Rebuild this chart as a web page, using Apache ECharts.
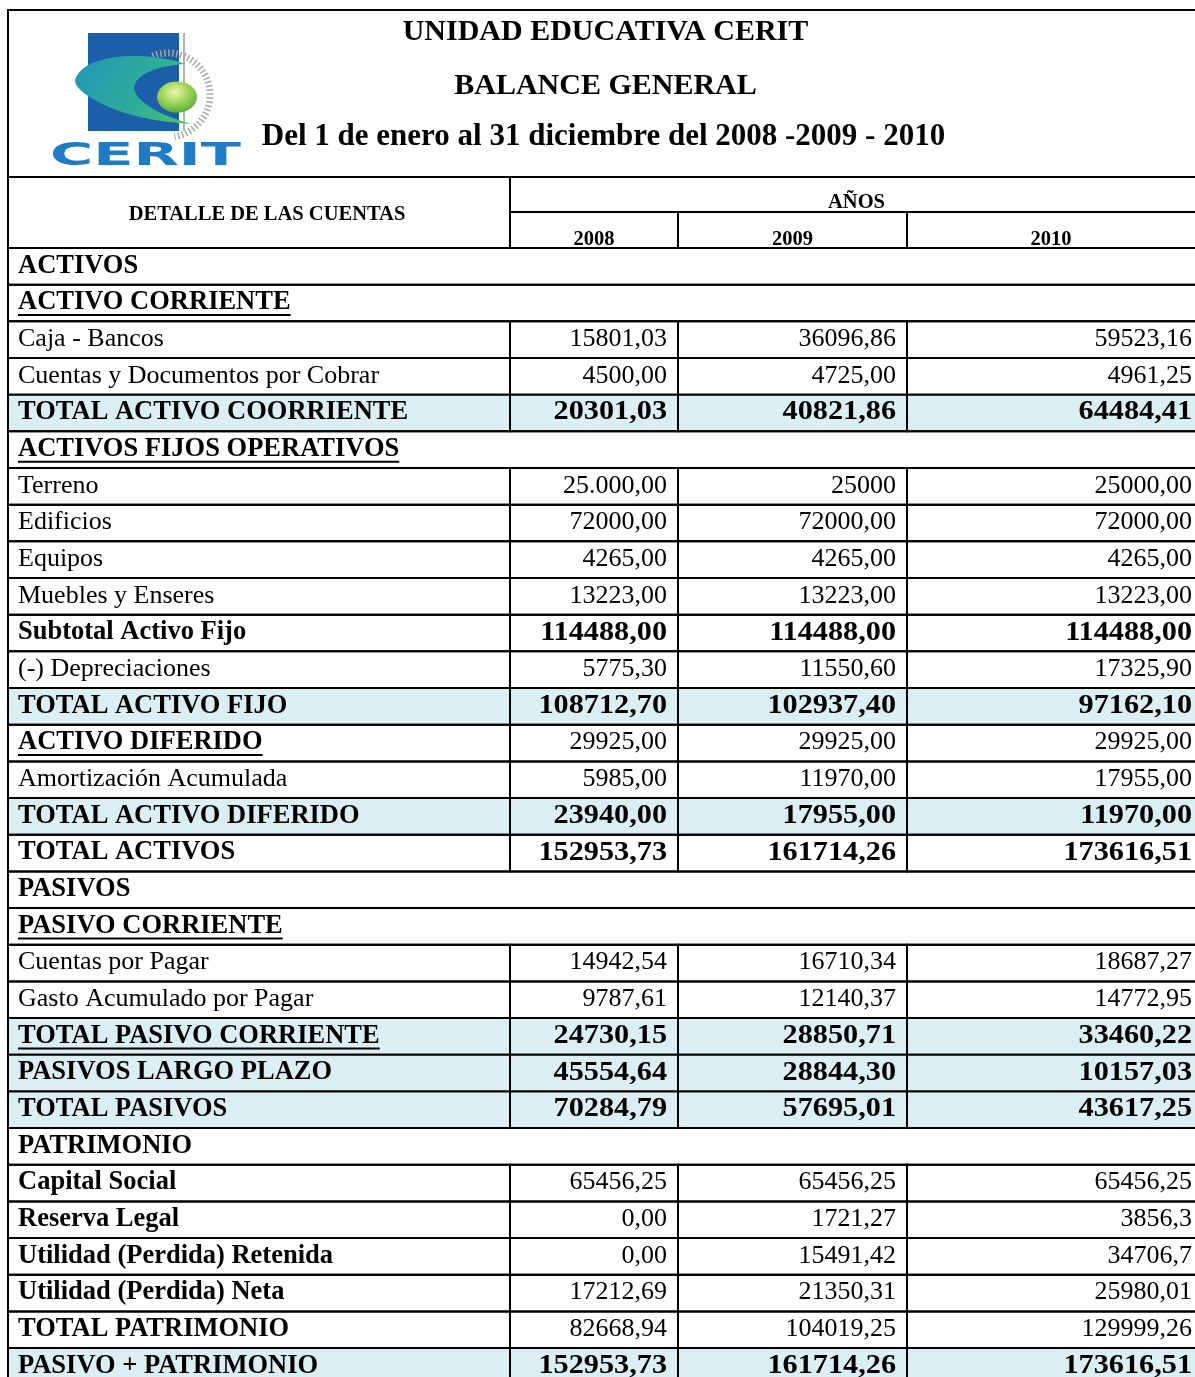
<!DOCTYPE html>
<html>
<head>
<meta charset="utf-8">
<script src="https://cdn.jsdelivr.net/npm/echarts@6/dist/echarts.min.js"></script>
<style>html,body{margin:0;padding:0;background:#fff;overflow:hidden;}#c{width:1195px;height:1400px;}</style>
</head>
<body>
<div id="c"></div>
<script>
// ---------- DATA ----------
const titleLines = ['UNIDAD EDUCATIVA CERIT', 'BALANCE GENERAL', 'Del 1 de enero al 31 diciembre del 2008 -2009 - 2010'];
const headerLabel = 'DETALLE DE LAS CUENTAS';
const headerGroup = 'AÑOS';
const years = ['2008', '2009', '2010'];
const rowLabels = [
  'ACTIVOS', 'ACTIVO CORRIENTE', 'Caja - Bancos', 'Cuentas y Documentos por Cobrar', 'TOTAL ACTIVO COORRIENTE',
  'ACTIVOS FIJOS OPERATIVOS', 'Terreno', 'Edificios', 'Equipos', 'Muebles y Enseres', 'Subtotal Activo Fijo',
  '(-) Depreciaciones', 'TOTAL ACTIVO FIJO', 'ACTIVO DIFERIDO', 'Amortización Acumulada', 'TOTAL ACTIVO DIFERIDO',
  'TOTAL ACTIVOS', 'PASIVOS', 'PASIVO CORRIENTE', 'Cuentas por Pagar', 'Gasto Acumulado por Pagar',
  'TOTAL PASIVO CORRIENTE', 'PASIVOS LARGO PLAZO', 'TOTAL PASIVOS', 'PATRIMONIO', 'Capital Social',
  'Reserva Legal', 'Utilidad (Perdida) Retenida', 'Utilidad (Perdida) Neta', 'TOTAL PATRIMONIO', 'PASIVO + PATRIMONIO'
];
// row kind: section | subhead | item | total | totalU | strong | subItem | boldLabel
const rowKind = [
  'section', 'subhead', 'item', 'item', 'total',
  'subhead', 'item', 'item', 'item', 'item', 'strong',
  'item', 'total', 'subItem', 'item', 'total',
  'strong', 'section', 'subhead', 'item', 'item',
  'totalU', 'total', 'total', 'section', 'boldLabel',
  'boldLabel', 'boldLabel', 'boldLabel', 'boldLabel', 'total'
];
const v2008 = [null, null, '15801,03', '4500,00', '20301,03', null, '25.000,00', '72000,00', '4265,00', '13223,00', '114488,00',
  '5775,30', '108712,70', '29925,00', '5985,00', '23940,00', '152953,73', null, null, '14942,54', '9787,61',
  '24730,15', '45554,64', '70284,79', null, '65456,25', '0,00', '0,00', '17212,69', '82668,94', '152953,73'];
const v2009 = [null, null, '36096,86', '4725,00', '40821,86', null, '25000', '72000,00', '4265,00', '13223,00', '114488,00',
  '11550,60', '102937,40', '29925,00', '11970,00', '17955,00', '161714,26', null, null, '16710,34', '12140,37',
  '28850,71', '28844,30', '57695,01', null, '65456,25', '1721,27', '15491,42', '21350,31', '104019,25', '161714,26'];
const v2010 = [null, null, '59523,16', '4961,25', '64484,41', null, '25000,00', '72000,00', '4265,00', '13223,00', '114488,00',
  '17325,90', '97162,10', '29925,00', '17955,00', '11970,00', '173616,51', null, null, '18687,27', '14772,95',
  '33460,22', '10157,03', '43617,25', null, '65456,25', '3856,3', '34706,7', '25980,01', '129999,26', '173616,51'];

// ---------- LAYOUT / STYLE ----------
const W = 1195;
const colEdges = [8, 510, 678, 907, 1203];
const HEAD_TOP = 10, HEAD_BOT = 177, COLHEAD_MID = 212, BODY_TOP = 248, ROW_H = 36.67;
const SERIF = '"Liberation Serif", "Times New Roman", serif';
const BODY_FS = 26, BOLD_LABEL_FS = 26.5, BOLD_VALUE_FS = 27, BOLD_VALUE_SX = 1.12, TITLE_FS = 30, HEAD_FS = 20.5;
const TEXT_DY = -0.5;
const FILL = '#daeef3';
const LW = 2;
const kindStyle = {
  section:   {span: true,  lb: true,  lu: false, vb: false, fill: false},
  subhead:   {span: true,  lb: true,  lu: true,  vb: false, fill: false},
  item:      {span: false, lb: false, lu: false, vb: false, fill: false},
  total:     {span: false, lb: true,  lu: false, vb: true,  fill: true},
  totalU:    {span: false, lb: true,  lu: true,  vb: true,  fill: true},
  strong:    {span: false, lb: true,  lu: false, vb: true,  fill: false},
  subItem:   {span: false, lb: true,  lu: true,  vb: false, fill: false},
  boldLabel: {span: false, lb: true,  lu: false, vb: false, fill: false}
};
const mctx = document.createElement('canvas').getContext('2d');
function textWidth(t, font) { mctx.font = font; return mctx.measureText(t).width; }
const cols = [v2008, v2009, v2010];

function renderRow(params, api) {
  const i = params.dataIndex;
  const st = kindStyle[rowKind[i]];
  const cy = api.coord([0, i])[1];
  const h = api.size([0, 1])[1];
  const top = cy - h / 2;
  const ty = cy + TEXT_DY;
  const x0 = api.coord([colEdges[0], i])[0];
  const xr = api.coord([colEdges[4], i])[0];
  const children = [];
  if (st.fill) {
    children.push({type: 'rect', shape: {x: x0, y: top, width: xr - x0, height: h}, style: {fill: FILL}});
  }
  if (st.span) {
    children.push({type: 'rect', shape: {x: x0, y: top, width: xr - x0, height: h}, style: {fill: null, stroke: '#000', lineWidth: LW}});
  } else {
    for (let c = 0; c < 4; c++) {
      const a = api.coord([colEdges[c], i])[0], b = api.coord([colEdges[c + 1], i])[0];
      children.push({type: 'rect', shape: {x: a, y: top, width: b - a, height: h}, style: {fill: null, stroke: '#000', lineWidth: LW}});
    }
  }
  const lfont = st.lb ? ('bold ' + BOLD_LABEL_FS + 'px ' + SERIF) : (BODY_FS + 'px ' + SERIF);
  children.push({type: 'text', style: {text: rowLabels[i], x: x0 + 10, y: ty, font: lfont, fill: '#000', align: 'left', verticalAlign: 'middle'}});
  if (st.lu) {
    const w = textWidth(rowLabels[i], lfont);
    children.push({type: 'line', shape: {x1: x0 + 10, y1: ty + 12.5, x2: x0 + 10 + w, y2: ty + 12.5}, style: {stroke: '#000', lineWidth: 2}});
  }
  if (!st.span) {
    for (let c = 0; c < 3; c++) {
      const v = cols[c][i];
      if (v == null) continue;
      const b = api.coord([colEdges[c + 2], i])[0];
      if (st.vb) {
        children.push({type: 'text', x: b - 11, y: ty, scaleX: BOLD_VALUE_SX,
          style: {text: v, x: 0, y: 0, font: 'bold ' + BOLD_VALUE_FS + 'px ' + SERIF, fill: '#000', align: 'right', verticalAlign: 'middle'}});
      } else {
        children.push({type: 'text', style: {text: v, x: b - 11, y: ty, font: BODY_FS + 'px ' + SERIF, fill: '#000', align: 'right', verticalAlign: 'middle'}});
      }
    }
  }
  return {type: 'group', children: children};
}

// ---------- HEADER GRAPHICS ----------
const headerEls = [];
function box(x, y, w, h) {
  headerEls.push({type: 'rect', shape: {x: x, y: y, width: w, height: h}, style: {fill: null, stroke: '#000', lineWidth: LW}, z: 10});
}
function txt(t, x, y, font, align) {
  headerEls.push({type: 'text', x: x, y: y, style: {text: t, font: font, fill: '#000', align: align || 'center', verticalAlign: 'middle'}, z: 11});
}
const cx = (colEdges[0] + colEdges[4]) / 2;
box(colEdges[0], HEAD_TOP, colEdges[4] - colEdges[0], HEAD_BOT - HEAD_TOP);
txt(titleLines[0], cx, 32, 'bold ' + TITLE_FS + 'px ' + SERIF);
txt(titleLines[1], cx, 86, 'bold ' + TITLE_FS + 'px ' + SERIF);
txt(titleLines[2], cx - 2, 137, 'bold ' + (TITLE_FS + 1) + 'px ' + SERIF);
box(colEdges[0], HEAD_BOT, colEdges[1] - colEdges[0], BODY_TOP - HEAD_BOT);
box(colEdges[1], HEAD_BOT, colEdges[4] - colEdges[1], COLHEAD_MID - HEAD_BOT);
for (let c = 1; c < 4; c++) box(colEdges[c], COLHEAD_MID, colEdges[c + 1] - colEdges[c], BODY_TOP - COLHEAD_MID);
txt(headerLabel, (colEdges[0] + colEdges[1]) / 2 + 8, 215, 'bold ' + HEAD_FS + 'px ' + SERIF);
txt(headerGroup, (colEdges[1] + 1195) / 2 + 4, 203, 'bold ' + HEAD_FS + 'px ' + SERIF);
for (let c = 0; c < 3; c++) txt(years[c], (colEdges[c + 1] + Math.min(colEdges[c + 2], 1195)) / 2, 240, 'bold ' + HEAD_FS + 'px ' + SERIF);

// logo helpers: sample cubic bezier segments into polygon points
function bez(p0, p1, p2, p3, n) {
  const pts = [];
  for (let k = 0; k <= n; k++) {
    const t = k / n, u = 1 - t;
    pts.push([
      u * u * u * p0[0] + 3 * u * u * t * p1[0] + 3 * u * t * t * p2[0] + t * t * t * p3[0],
      u * u * u * p0[1] + 3 * u * u * t * p1[1] + 3 * u * t * t * p2[1] + t * t * t * p3[1]
    ]);
  }
  return pts;
}
const swoosh = [].concat(
  bez([75, 80], [80, 62], [110, 55], [140, 56], 12),
  bez([140, 56], [160, 57], [175, 60], [185, 64], 8),
  bez([185, 64], [150, 66], [124, 80], [138, 97], 12),
  bez([138, 97], [150, 110], [170, 118], [192, 124], 10),
  bez([192, 124], [150, 122], [112, 112], [88, 96], 12),
  bez([88, 96], [80, 90], [75, 86], [75, 80], 6)
);
const logo = {type: 'group', z: 12, children: [
  {type: 'rect', shape: {x: 88, y: 33, width: 91, height: 98}, style: {fill: '#1b5fa8'}},
  {type: 'line', shape: {x1: 184, y1: 33, x2: 184, y2: 131}, style: {stroke: '#9a9a9a', lineWidth: 1.5}},
  {type: 'arc', shape: {cx: 168, cy: 95, r: 42, startAngle: -Math.PI * 0.62, endAngle: Math.PI * 0.45, clockwise: true},
    style: {stroke: '#a8a8a8', lineWidth: 7, lineDash: [1.5, 2.5], fill: null}},
  {type: 'polygon', shape: {points: swoosh},
    style: {fill: {type: 'linear', x: 0, y: 0, x2: 1, y2: 1, colorStops: [{offset: 0, color: '#2296b8'}, {offset: 0.6, color: '#2fae98'}, {offset: 1, color: '#55c06a'}]}}},
  {type: 'circle', shape: {cx: 0, cy: 0, r: 20}, x: 177, y: 97, scaleY: 0.78,
    style: {fill: {type: 'radial', x: 0.45, y: 0.35, r: 0.7, colorStops: [{offset: 0, color: '#eef7a8'}, {offset: 0.5, color: '#9fd45a'}, {offset: 1, color: '#4ea83a'}]}}},
  {type: 'text', x: 50, y: 157, scaleX: 1.9, scaleY: 1.05,
    style: {text: 'CERIT', font: 'bold 31px "DejaVu Sans", sans-serif', fill: '#1f7cc4', align: 'left', verticalAlign: 'middle'}}
]};
headerEls.push(logo);

const chart = echarts.init(document.getElementById('c'), null, {renderer: 'canvas'});
chart.setOption({
  backgroundColor: '#fff',
  animation: false,
  grid: {left: 0, top: BODY_TOP, width: W, height: ROW_H * rowLabels.length},
  xAxis: {type: 'value', min: 0, max: W, show: false},
  yAxis: {type: 'category', data: rowLabels, inverse: true, show: false},
  graphic: {elements: headerEls},
  series: [{
    type: 'custom',
    renderItem: renderRow,
    data: rowLabels.map((_, i) => [0, i]),
    encode: {x: 0, y: 1},
    clip: false
  }]
});
</script>
</body>
</html>
